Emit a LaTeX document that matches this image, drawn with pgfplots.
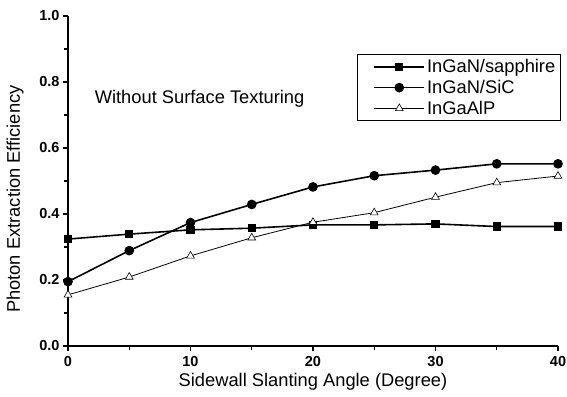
\documentclass[border=0pt]{standalone}
\usepackage{pgfplots}
\pgfplotsset{compat=1.18}
\usepackage{fontspec}
\setmainfont{Liberation Sans}
\begin{document}
\begin{tikzpicture}
\begin{axis}[
  scale only axis,
  width=490pt, height=330pt,
  xmin=0, xmax=40, ymin=0, ymax=1.0,
  axis x line*=bottom, axis y line*=left,
  axis line style={line width=1.3pt},
  xtick={0,10,20,30,40},
  minor xtick={5,15,25,35},
  ytick={0,0.2,0.4,0.6,0.8,1.0},
  minor ytick={0.1,0.3,0.5,0.7,0.9},
  tick align=outside,
  major tick length=5pt, minor tick length=4pt,
  every tick/.style={line width=1.2pt, black},
  yticklabel style={/pgf/number format/fixed, /pgf/number format/fixed zerofill, /pgf/number format/precision=1},
  xticklabel style={yshift=-2pt},
  /pgf/number format/assume math mode=true,
  ticklabel style={font=\fontsize{14.5}{16}\selectfont\bfseries},
  xlabel={Sidewall Slanting Angle (Degree)},
  ylabel={Photon Extraction Efficiency},
  label style={font=\fontsize{18.3}{20}\selectfont},
  xlabel style={at={(axis description cs:0.5,-0.109)}, anchor=center},
  ylabel style={at={(axis description cs:-0.108,0.445)}, anchor=center},
  legend cell align=left,
  legend style={at={(0.5898,0.8848)}, anchor=north west, draw=black, line width=1pt,
    font=\fontsize{18.3}{20}\selectfont, inner sep=3pt, row sep=2pt,
    /tikz/every even column/.append style={column sep=2pt}},
  legend image code/.code={\path (0pt,0pt); \draw[mark repeat=2,mark phase=2] plot coordinates {(13pt,0pt)(38pt,0pt)(63pt,0pt)};},
]
\addplot[black, line width=1.6pt, mark=square*, mark size=3.3pt, mark options={solid}] coordinates {
(0,0.324) (5,0.339) (10,0.352) (15,0.357) (20,0.367) (25,0.367) (30,0.370) (35,0.362) (40,0.362)};
\addlegendentry{InGaN/sapphire}
\addplot[black, line width=1.6pt, mark=*, mark size=4pt] coordinates {
(0,0.195) (5,0.289) (10,0.374) (15,0.429) (20,0.482) (25,0.516) (30,0.533) (35,0.552) (40,0.552)};
\addlegendentry{InGaN/SiC}
\addplot[black, line width=0.8pt, mark=triangle*, mark size=4.5pt, mark options={fill=white, line width=0.6pt}] coordinates {
(0,0.155) (5,0.209) (10,0.273) (15,0.328) (20,0.375) (25,0.404) (30,0.451) (35,0.495) (40,0.515)};
\addlegendentry{InGaAlP}
\node[anchor=west, font=\fontsize{18.3}{20}\selectfont] at (axis cs:1.9,0.75) {Without Surface Texturing};
\end{axis}
\pgfresetboundingbox
\path[use as bounding box] (-68pt,-50pt) rectangle (499pt,346pt);
\end{tikzpicture}
\end{document}
